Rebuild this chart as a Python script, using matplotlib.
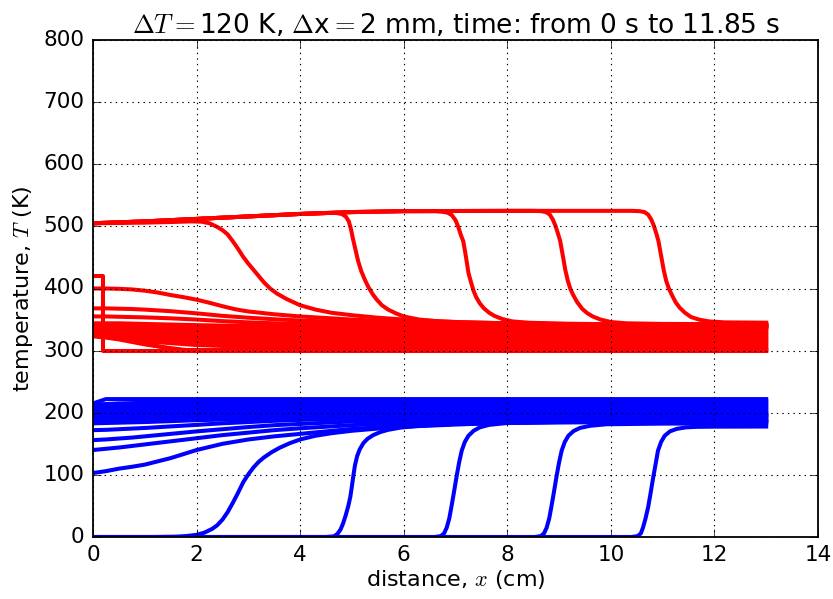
import matplotlib
matplotlib.use("Agg")
import matplotlib.pyplot as plt

plt.style.use("classic")
plt.rcParams["font.family"] = ["DejaVu Sans"]
plt.rcParams["mathtext.fontset"] = "cm"

# ---------------- data ----------------
title = r"$\Delta T=$120 K, $\Delta$x$=$2 mm, time: from 0 s to 11.85 s"
xlabel = r"distance, $x$ (cm)"
ylabel = r"temperature, $T$ (K)"
x_ticks = [0, 2, 4, 6, 8, 10, 12, 14]
y_ticks = [0, 100, 200, 300, 400, 500, 600, 700, 800]

# x grids (cm)
x_band = [0, 0.5, 1, 2, 3, 4, 6, 8, 10, 13]
x_fine = [0, 0.25, 0.5, 0.75, 1, 1.5, 2, 2.5, 3, 3.5, 4, 5, 6, 7, 8, 10, 13]

# --- red (hot) profiles ---
red_initial_x = [0, 0.2, 0.2, 13]
red_initial_T = [420, 420, 300, 300]

red_early_x = [0, 0.25, 0.5, 1, 1.5, 1.8, 13]
red_early_T = [
    [330, 327, 322, 311, 303, 300, 300],
    [323, 321, 318, 310, 304, 301, 300],
]

red_band_T = [
    [324, 320, 315, 309, 306, 304, 303, 302, 302, 302],
    [326, 323, 319, 313, 310, 308, 306, 305, 305, 305],
    [328, 326, 322, 317, 313, 311, 309, 308, 308, 308],
    [330, 328, 325, 320, 317, 315, 313, 312, 311, 311],
    [332, 330, 328, 324, 321, 319, 316, 315, 314, 314],
    [334, 332, 330, 327, 324, 322, 319, 318, 317, 317],
    [335, 334, 332, 329, 327, 325, 322, 321, 320, 320],
    [337, 336, 334, 332, 330, 328, 325, 324, 323, 323],
    [338, 337, 336, 334, 332, 331, 328, 327, 326, 326],
    [339, 338, 337, 336, 334, 333, 331, 330, 329, 329],
    [340, 339, 339, 337, 336, 335, 334, 333, 332, 332],
    [341, 340, 340, 339, 338, 337, 336, 335, 335, 335],
    [341, 341, 341, 340, 340, 339, 338, 338, 338, 338],
]

red_mid_T = [
    [344, 344, 344, 343.5, 343, 342, 341, 340, 339.5, 339, 338.5, 338, 338, 337.5, 337.5, 337.5, 337.5],
    [355, 355, 354.5, 354, 353.5, 352, 350, 347.5, 345.5, 344, 343, 341.5, 340.5, 340, 339.5, 339, 338.5],
    [368, 368, 367.5, 367, 366, 363.5, 360, 356, 353, 350.5, 348.5, 345.5, 343.5, 342, 341, 340, 339.5],
]

red_hot_x = [0, 0.25, 0.5, 0.75, 1, 1.25, 1.5, 1.75, 2, 2.25, 2.5, 2.75, 3, 3.5, 4, 5, 6, 7, 8, 10, 13]
red_hot_T = [400, 400, 399.5, 398.5, 396.5, 393.5, 389.5, 386, 382, 377, 371.5, 366.5, 363, 358.5, 355, 350, 346, 344, 342.5, 341, 340]

red_front1_x = [0, 0.5, 1, 1.5, 1.9, 2.1, 2.25, 2.4, 2.5, 2.6, 2.7, 2.8, 2.9, 3.0, 3.1, 3.2, 3.3,
                3.42, 3.55, 3.74, 4.0, 4.3, 4.6, 5.0, 5.5, 6, 7, 8, 10, 13]
red_front1_T = [505, 505.5, 506, 507, 508, 507.5, 505, 499, 494, 487, 476, 464, 451, 440, 430, 420, 410,
                400, 392, 383, 373, 366, 361, 357, 353, 350, 346, 344, 342, 340]

red_front2_x = [0, 1, 2, 3, 4, 4.5, 4.7, 4.8, 4.88, 4.94, 4.98, 5.02, 5.07, 5.12, 5.18, 5.25, 5.32,
                5.4, 5.48, 5.58, 5.7, 5.85, 6.0, 6.3, 6.7, 7.2, 8, 10, 13]
red_front2_T = [505, 508, 512, 516, 520, 521.5, 521.5, 520, 516, 508, 496, 480, 462, 444, 428, 414, 402,
                391, 382, 373, 366, 360, 355, 350, 347, 345.5, 344, 342, 341]

red_front3_x = [0, 1, 2, 3, 4, 5, 6, 6.6, 6.75, 6.85, 6.93, 7.0, 7.05, 7.1, 7.15, 7.2, 7.25, 7.3,
                7.35, 7.4, 7.47, 7.55, 7.65, 7.75, 7.9, 8.1, 8.4, 9, 10, 13]
red_front3_T = [505, 508, 512, 516, 520, 523, 524.5, 524.5, 523.5, 522, 518, 510, 500, 487, 476, 452, 425, 410,
                396, 386, 376, 368, 361, 356, 351, 347, 345, 343.5, 342.5, 342]

red_front4_x = [0, 1, 2, 3, 4, 5, 6, 8, 8.5, 8.65, 8.75, 8.82, 8.88, 8.93, 8.98, 9.02, 9.07, 9.12,
                9.17, 9.22, 9.27, 9.35, 9.45, 9.55, 9.65, 9.8, 10.0, 10.3, 11, 13]
red_front4_T = [505, 508, 512, 516, 520, 523, 524.5, 525, 525, 524.5, 523, 519, 511, 501, 488, 477, 454, 430,
                412, 399, 390, 378, 367, 360, 355, 350, 346, 344, 343, 342.5]

red_front5_x = [0, 1, 2, 3, 4, 5, 6, 8, 10, 10.4, 10.55, 10.65, 10.72, 10.78, 10.83, 10.88, 10.92, 10.97,
                11.02, 11.07, 11.12, 11.17, 11.25, 11.33, 11.43, 11.55, 11.7, 11.9, 12.2, 13]
red_front5_T = [505, 508, 512, 516, 520, 523, 524.5, 525, 525, 525, 524.5, 523, 519, 511, 501, 488, 476, 453,
                430, 412, 400, 391, 378, 369, 361, 354, 350, 347, 345.5, 345]

# --- blue (cold) profiles ---
blue_top_x = [0, 0.25, 13]
blue_top_T = [215, 222, 222]

blue_band_T = [
    [213, 215, 216, 218, 219, 219, 219, 219, 219, 219],
    [209, 211, 212, 214, 215, 216, 216, 216, 216, 216],
    [205, 207, 208, 210, 211, 212, 213, 213, 213, 213],
    [201, 203, 204, 206, 207, 208, 209, 210, 210, 210],
    [197, 199, 200, 202, 204, 205, 206, 207, 207, 207],
    [193, 195, 196, 199, 200, 201, 203, 203, 204, 204],
    [189, 191, 192, 195, 197, 198, 199, 200, 201, 201],
    [186, 187, 188, 191, 193, 194, 196, 197, 198, 198],
    [183, 184, 185, 188, 190, 191, 193, 194, 195, 195],
]

blue_mid_T = [
    [172, 172.5, 173.5, 174.5, 175.5, 178, 180.5, 183, 185, 187, 188.5, 191, 193, 194, 195, 196, 197],
    [156, 157, 158.5, 160, 162, 166, 170, 173.5, 177, 180, 182, 186, 188.5, 190, 191.5, 193, 194.5],
    [140, 142, 144, 146.5, 149, 154, 159, 164, 168, 172, 175, 180, 184, 186, 188, 190, 192],
    [103, 106, 110, 113, 116.5, 127, 140, 150, 157, 162, 166, 174, 179, 182, 184.5, 187, 189],
]

blue_front1_x = [0, 1.2, 1.6, 1.8, 2.0, 2.15, 2.3, 2.4, 2.5, 2.6, 2.7, 2.8, 2.9, 3.0, 3.1, 3.2, 3.3,
                 3.45, 3.6, 3.8, 4.0, 4.3, 4.6, 5.0, 5.5, 6.0, 7, 8, 10, 13]
blue_front1_T = [0, 0, 0.5, 1.5, 3.5, 7, 13, 19, 28, 40, 55, 71, 88, 101, 112, 121, 128,
                 136.5, 143.5, 151, 157, 163, 167, 171, 174.5, 177.5, 181, 184, 186.5, 188]

blue_front2_x = [0, 4.5, 4.65, 4.72, 4.78, 4.83, 4.88, 4.93, 4.97, 5.0, 5.03, 5.06, 5.1, 5.15, 5.22,
                 5.3, 5.41, 5.55, 5.7, 5.93, 6.3, 7, 8, 10, 13]
blue_front2_T = [0, 0, 1, 5, 12, 22, 35, 50, 65, 82, 100, 116, 130, 141, 151,
                 158, 164, 169, 172.5, 176, 179, 182, 184, 185.5, 186.5]

blue_front3_x = [0, 6.6, 6.72, 6.78, 6.83, 6.88, 6.92, 6.97, 7.02, 7.07, 7.12, 7.18, 7.25, 7.35,
                 7.47, 7.65, 8.0, 9, 13]
blue_front3_T = [0, 0, 1.5, 6, 15, 30, 48, 72, 97, 120, 139, 153, 163, 171,
                 176.5, 180.5, 183.5, 184.5, 185]

blue_front4_x = [0, 8.53, 8.65, 8.71, 8.76, 8.81, 8.85, 8.9, 8.95, 9.0, 9.05, 9.11, 9.18, 9.28,
                 9.4, 9.6, 9.92, 11, 13]
blue_front4_T = [0, 0, 1.5, 6, 15, 30, 48, 72, 97, 120, 139, 153, 163, 170.5,
                 175.5, 179, 181.5, 182.5, 183]

blue_front5_x = [0, 10.4, 10.52, 10.58, 10.62, 10.67, 10.72, 10.77, 10.82, 10.87, 10.91, 10.97, 11.04,
                 11.14, 11.27, 11.45, 11.65, 12, 13]
blue_front5_T = [0, 0, 1.5, 6, 15, 30, 48, 72, 97, 120, 139, 153, 163,
                 170, 174, 176.5, 177.3, 177.6, 177.8]

# ---------------- figure ----------------
W, H = 833, 599
fig = plt.figure(figsize=(W / 100, H / 100), dpi=100, facecolor="white")
ax = fig.add_axes([93 / W, 1 - 537 / H, (818 - 93) / W, (537 - 40) / H])

lw = 2.9
red = "#ff0000"
blue = "#0000ff"

ax.plot(red_initial_x, red_initial_T, color=red, lw=lw)
for row in red_early_T:
    ax.plot(red_early_x, row, color=red, lw=lw)
for row in red_band_T:
    ax.plot(x_band, row, color=red, lw=lw)
for row in red_mid_T:
    ax.plot(x_fine, row, color=red, lw=lw)
ax.plot(red_hot_x, red_hot_T, color=red, lw=lw)
for fx, fT in [(red_front1_x, red_front1_T), (red_front2_x, red_front2_T),
               (red_front3_x, red_front3_T), (red_front4_x, red_front4_T),
               (red_front5_x, red_front5_T)]:
    ax.plot(fx, fT, color=red, lw=lw)

ax.plot(blue_top_x, blue_top_T, color=blue, lw=lw)
for row in blue_band_T:
    ax.plot(x_band, row, color=blue, lw=lw)
for row in blue_mid_T:
    ax.plot(x_fine, row, color=blue, lw=lw)
for fx, fT in [(blue_front1_x, blue_front1_T), (blue_front2_x, blue_front2_T),
               (blue_front3_x, blue_front3_T), (blue_front4_x, blue_front4_T),
               (blue_front5_x, blue_front5_T)]:
    ax.plot(fx, fT, color=blue, lw=lw)

ax.set_xlim(0, 14)
ax.set_ylim(0, 800)
ax.set_xticks(x_ticks)
ax.set_yticks(y_ticks)
ax.tick_params(labelsize=15.5, direction="in", top=True, right=True, length=6, pad=6)
ax.grid(True, color="k", linestyle=":", linewidth=0.8)
for s in ax.spines.values():
    s.set_linewidth(1.3)

ax.set_xlabel(xlabel, fontsize=16, labelpad=2)
ax.set_ylabel(ylabel, fontsize=16, labelpad=6)
ax.set_title(title, fontsize=19, pad=5)

fig.savefig("out.png", dpi=100, facecolor="white")
